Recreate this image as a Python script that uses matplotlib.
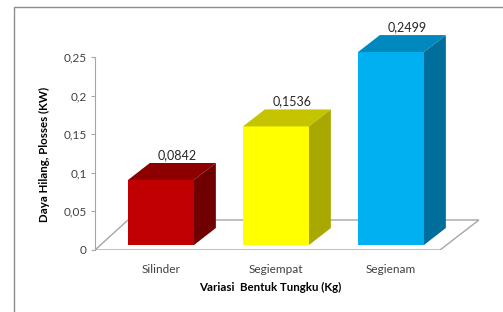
import matplotlib
matplotlib.use("Agg")
import matplotlib.pyplot as plt
from matplotlib.patches import Polygon, Rectangle

categories = ["Silinder", "Segiempat", "Segienam"]
values = [0.0842, 0.1536, 0.2499]
value_labels = ["0,0842", "0,1536", "0,2499"]
yticks = [0, 0.05, 0.1, 0.15, 0.2, 0.25]
ytick_labels = ["0", "0,05", "0,1", "0,15", "0,2", "0,25"]
front_colors = ["#C00000", "#FFFF00", "#00B0F0"]
top_colors = ["#8C0000", "#C4C400", "#0088BF"]
side_colors = ["#700000", "#A8A800", "#006E9A"]

plt.rcParams['font.family'] = ['Lato', 'DejaVu Sans']

fig = plt.figure(figsize=(5.03, 3.12), dpi=100)
fig.patch.set_facecolor("white")

# outer chart frame
fig.patches.append(Rectangle((14/503, -0.1), 1.2, (312-7)/312 + 0.1, transform=fig.transFigure,
                             fill=False, edgecolor="#8C8C8C", linewidth=1.0))

ax = fig.add_axes([95/503, (312-250)/312, (490-95)/503, 235/312])
ax.set_xlim(-0.574, 2.861)
ax.set_ylim(0, 235/772)
ax.patch.set_alpha(0)

# projection parameters (data units)
bar_w = 0.574
bar_dx = 0.19
bar_dy = 0.022
base = 0.0065
floor_dx_l = 0.287
floor_dx_r = 0.339
floor_dy = 0.0389
x_left, x_right = -0.574, 2.426

floor = Polygon([(x_left, 0), (x_right, 0), (x_right + floor_dx_r, floor_dy),
                 (x_left + floor_dx_l, floor_dy)], closed=True,
                facecolor="white", edgecolor="#A6A6A6", linewidth=1.0, zorder=1)
ax.add_patch(floor)

for i, (v, fc, tc, sc, lab) in enumerate(zip(values, front_colors, top_colors, side_colors, value_labels)):
    x0 = i - bar_w / 2
    x1 = i + bar_w / 2
    ytop = base + v
    ax.bar(i, v, width=bar_w, bottom=base, color=fc, edgecolor="none", zorder=3)
    top = Polygon([(x0, ytop), (x1, ytop), (x1 + bar_dx, ytop + bar_dy), (x0 + bar_dx, ytop + bar_dy)],
                  closed=True, facecolor=tc, edgecolor="none", zorder=3, clip_on=False)
    side = Polygon([(x1, base), (x1 + bar_dx, base + bar_dy), (x1 + bar_dx, ytop + bar_dy), (x1, ytop)],
                   closed=True, facecolor=sc, edgecolor="none", zorder=3, clip_on=False)
    ax.add_patch(top)
    ax.add_patch(side)
    ax.text(i + 0.14, ytop + bar_dy + 0.003, lab, ha="center", va="bottom",
            fontsize=9, color="#262626", zorder=4)

ax.set_xticks(range(len(categories)))
ax.set_xticklabels(categories, fontsize=8.5, color="#404040")
ax.tick_params(axis="x", length=0, pad=10)
ax.set_yticks(yticks)
ax.set_yticklabels(ytick_labels, fontsize=8.5, color="#404040")
ax.tick_params(axis="y", length=3, width=0.8, color="#A6A6A6", pad=3)

for s in ["top", "right", "bottom"]:
    ax.spines[s].set_visible(False)
ax.spines["left"].set_bounds(0, 0.25)
ax.spines["left"].set_color("#A6A6A6")
ax.spines["left"].set_linewidth(0.8)

ax.set_xlabel("Variasi  Bentuk Tungku (Kg)", fontsize=8.3, fontweight="bold", color="#000000")
ax.xaxis.set_label_coords((270-95)/395, -(282-250)/235)
ax.set_ylabel("Daya Hilang, Plosses (KW)", fontsize=8.3, fontweight="bold", color="#000000")
ax.yaxis.set_label_coords(-(95-50)/395, (250-154)/235)

fig.savefig("out.png", dpi=100, facecolor="white")
